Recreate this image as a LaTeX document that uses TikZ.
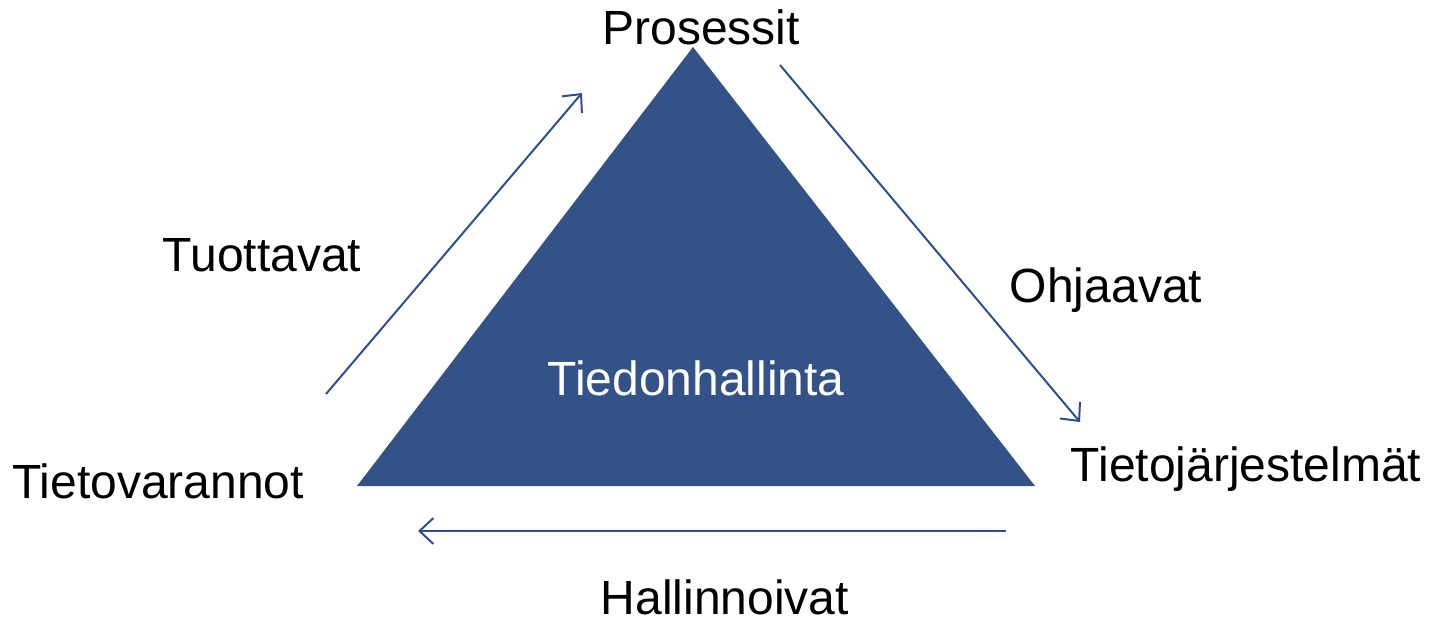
\documentclass[tikz,border=0pt]{standalone}
\usepackage{fontspec}
\setmainfont{Liberation Sans}
\usetikzlibrary{arrows.meta}
\definecolor{triblue}{RGB}{50,82,136}
\definecolor{arrblue}{RGB}{47,78,145}
\begin{document}
\begin{tikzpicture}[x=0.5pt,y=-0.5pt,
  lbl/.style={anchor=base,inner sep=0pt,font=\fontsize{24}{28}\selectfont},
  conn/.style={draw=arrblue,line width=1pt,-{Straight Barb[length=7pt,width=13pt,line width=1pt]}}]
\useasboundingbox (0,0) rectangle (1434,622);
\fill[triblue] (693,47) -- (357,486) -- (1035,486) -- cycle;
\node[lbl] (pro) at (701,44) {Prosessit};
\node[lbl] (tuo) at (262,271) {Tuottavat};
\node[lbl] (ohj) at (1106,302) {Ohjaavat};
\node[lbl] (tvar) at (158,498) {Tietovarannot};
\node[lbl] (tjar) at (1246,481) {Tietojärjestelmät};
\node[lbl] (hal) at (725,614) {Hallinnoivat};
\node[lbl,text=white] (tied) at (696,395) {Tiedonhallinta};
\coordinate (a1) at (326,394);
\coordinate (a2) at (582,93);
\coordinate (b1) at (780,65);
\coordinate (b2) at (1080,422);
\coordinate (c1) at (1006,531);
\coordinate (c2) at (418,531);
\draw[conn] (a1) -- (a2);
\draw[conn] (b1) -- (b2);
\draw[conn] (c1) -- (c2);
\end{tikzpicture}
\end{document}
